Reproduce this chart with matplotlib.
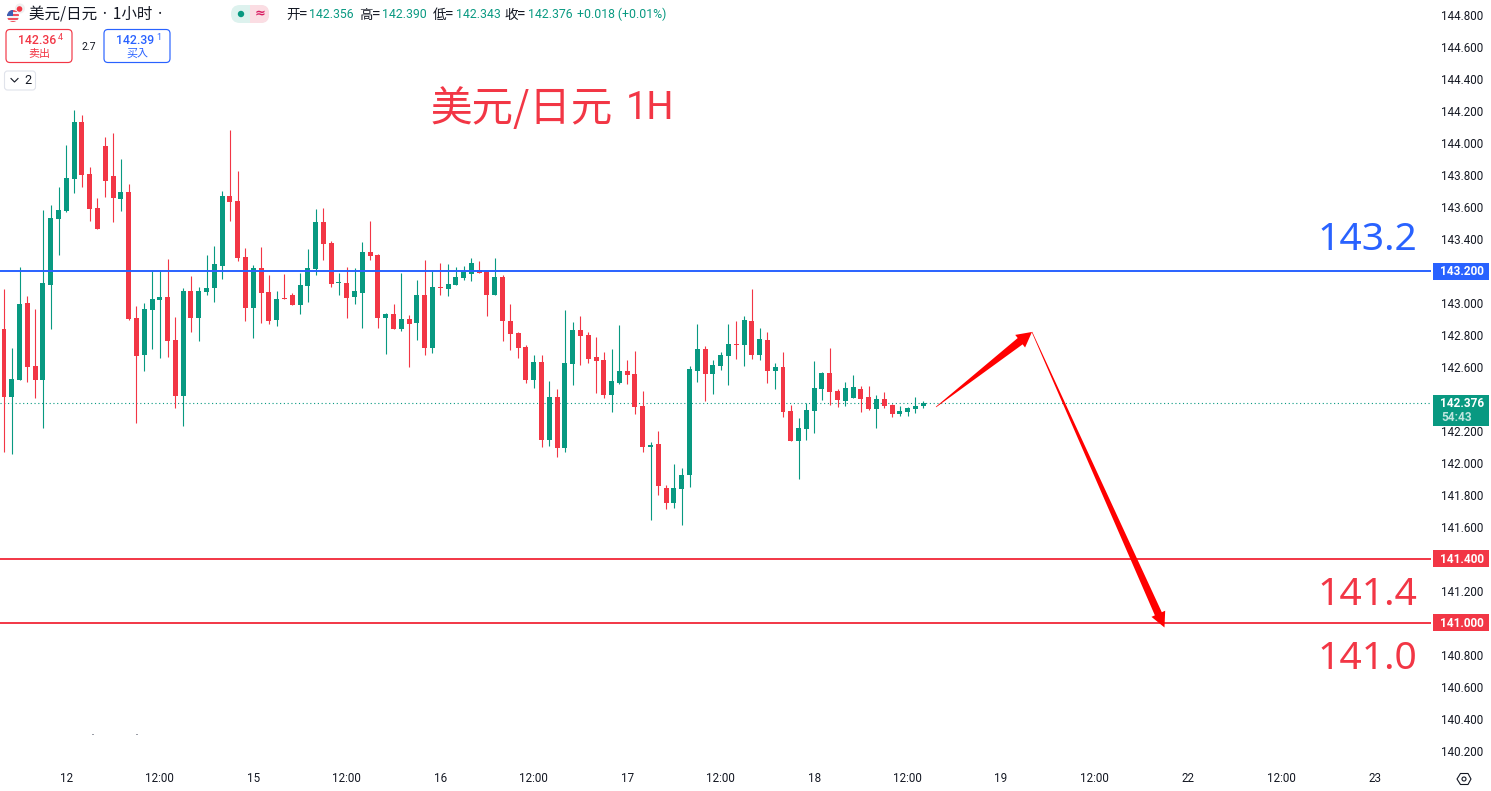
import matplotlib
matplotlib.use("Agg")
import matplotlib.pyplot as plt
from matplotlib import font_manager as fm
from matplotlib.patches import FancyBboxPatch, Rectangle, Polygon, Circle

W, H = 1491, 791
UP, DOWN, BLUE = "#089981", "#F23645", "#2962FF"
ARROW = "#FF0000"
TXT = "#131722"
installed = sorted({f.name for f in fm.fontManager.ttflist if "CJK" in f.name})
pref = [n for n in ["Noto Sans CJK SC","Noto Sans CJK JP","Noto Sans CJK TC","Noto Sans CJK KR"] if n in installed]
CJK = pref + [n for n in installed if n not in pref] + ["DejaVu Sans"]
NUM = "Roboto"

opens = [142.838,142.415,142.521,143.0,142.606,142.521,143.115,143.527,143.577,143.777,144.131,143.806,143.594,143.981,143.794,143.652,
143.694,142.906,142.677,142.959,143.021,143.038,142.769,142.421,143.075,142.909,143.071,143.096,143.234,143.669,143.638,143.288,
142.969,143.219,143.069,142.894,143.029,143.05,142.988,143.106,143.213,143.506,143.375,143.125,143.125,143.038,143.063,143.319,
143.3,142.906,142.931,142.838,142.9,142.875,143.05,142.719,143.1,143.088,143.113,143.156,143.181,143.206,143.198,143.05,
143.163,142.888,142.813,142.725,142.519,142.631,142.144,142.413,142.094,142.619,142.831,142.8,142.663,142.644,142.425,142.5,
142.575,142.556,142.356,142.1,142.119,141.844,141.75,141.838,141.925,142.575,142.713,142.556,142.606,142.669,142.744,142.738,
142.888,142.675,142.769,142.575,142.6,142.325,142.138,142.213,142.325,142.463,142.563,142.45,142.388,142.406,142.463,142.413,
142.338,142.4,142.363,142.306,142.319,142.338,142.356]
highs = [143.088,142.719,143.225,143.044,142.963,143.581,143.613,143.725,143.988,144.206,144.175,143.85,143.656,144.038,144.063,143.9,
143.744,142.981,143.0,143.2,143.206,143.275,142.913,143.094,143.169,143.1,143.3,143.356,143.7,144.081,143.825,143.344,
143.238,143.35,143.175,143.075,143.181,143.063,143.188,143.338,143.588,143.594,143.388,143.188,143.225,143.219,143.381,143.513,
143.306,142.938,142.994,143.188,142.925,143.144,143.269,143.2,143.25,143.244,143.225,143.231,143.281,143.263,143.2,143.281,
143.175,142.994,142.819,142.738,142.675,142.675,142.513,142.463,142.956,142.881,142.919,142.819,142.788,142.694,142.713,142.863,
142.644,142.7,142.45,142.131,142.2,141.863,141.994,141.969,142.606,142.869,142.731,142.644,142.694,142.869,142.888,142.919,
143.088,142.844,142.819,142.625,142.694,142.363,142.281,142.375,142.638,142.569,142.719,142.463,142.506,142.55,142.481,142.481,
142.425,142.444,142.369,142.356,142.35,142.413,142.39]
lows = [142.071,142.059,142.521,142.506,142.409,142.221,142.838,143.302,143.571,143.69,143.727,143.515,143.465,143.665,143.509,143.577,
142.894,142.252,142.577,142.715,142.659,142.665,142.346,142.234,142.821,142.765,143.052,143.009,143.152,143.515,143.265,142.89,
142.782,142.875,142.869,142.856,143.025,142.988,142.931,143.006,143.175,143.269,143.1,143.05,142.906,142.994,142.844,143.269,
142.844,142.681,142.838,142.825,142.6,142.769,142.675,142.688,143.05,143.044,143.113,143.144,143.138,143.188,142.919,143.05,
142.763,142.706,142.656,142.5,142.469,142.1,142.106,142.038,142.069,142.488,142.613,142.625,142.438,142.406,142.319,142.494,
142.494,142.306,142.069,141.644,141.8,141.713,141.719,141.613,141.85,142.506,142.388,142.431,142.581,142.488,142.65,142.606,
142.65,142.644,142.5,142.463,142.288,142.138,141.9,142.144,142.188,142.394,142.363,142.35,142.356,142.406,142.319,142.331,
142.219,142.344,142.288,142.294,142.294,142.313,142.343]
closes = [142.415,142.525,142.994,142.602,142.521,143.125,143.531,143.581,143.781,144.131,143.802,143.59,143.465,143.765,143.659,143.694,
142.902,142.671,142.963,143.025,143.038,142.765,142.421,143.075,142.909,143.075,143.094,143.244,143.669,143.634,143.284,142.971,
143.219,143.063,142.888,143.025,143.025,142.988,143.113,143.219,143.506,143.369,143.119,143.129,143.031,143.075,143.319,143.294,
142.906,142.931,142.838,142.9,142.869,143.05,142.719,143.1,143.094,143.119,143.163,143.194,143.25,143.188,143.05,143.163,
142.888,142.806,142.719,142.519,142.631,142.144,142.413,142.094,142.625,142.831,142.794,142.65,142.638,142.425,142.513,142.575,
142.55,142.35,142.1,142.113,141.856,141.75,141.844,141.925,142.588,142.713,142.556,142.613,142.675,142.744,142.74,142.894,
142.675,142.775,142.575,142.6,142.319,142.138,142.219,142.331,142.469,142.563,142.444,142.394,142.469,142.475,142.4,142.338,
142.4,142.356,142.306,142.325,142.344,142.356,142.376]

price_ticks = [140.2,140.4,140.6,140.8,141.0,141.2,141.4,141.6,141.8,142.0,142.2,142.4,142.6,142.8,143.0,143.2,143.4,143.6,143.8,144.0,144.2,144.4,144.6,144.8]
hidden_ticks = [141.0,141.4,143.2]
time_pos = [8,20,32,44,56,68,80,92,104,116,128,140,152,164,176]
time_labels = ["12","12:00","15","12:00","16","12:00","17","12:00","18","12:00","19","12:00","22","12:00","23"]
levels = [143.2,141.4,141.0]
level_colors = [BLUE,DOWN,DOWN]
last_price = 142.376
arrow_up = [(119.64,142.35),(131.96,142.819)]
arrow_down = [(131.96,142.819),(148.97,140.972)]

PANE_R, PANE_B = 1431, 767
fig = plt.figure(figsize=(W/100,H/100),dpi=100,facecolor="white")
ax = fig.add_axes([0,1-PANE_B/H,PANE_R/W,PANE_B/H])
px_per_bar, x0 = 7.79, 4.0
ax.set_xlim(-x0/px_per_bar,(PANE_R-x0)/px_per_bar)
ax.set_ylim(143.2-(PANE_B-271)/160,143.2+271/160)
for s in ax.spines.values():
    s.set_visible(False)
ax.yaxis.tick_right()
shown = [p for p in price_ticks if p not in hidden_ticks]
ax.set_yticks(shown)
ax.set_yticklabels([f"{p:.3f}" for p in shown],fontsize=8.4,family=NUM,color=TXT)
ax.tick_params(axis="y",length=0,pad=7)
ax.set_xticks(time_pos)
ax.set_xticklabels(time_labels,fontsize=8.4,family=NUM,color=TXT)
ax.tick_params(axis="x",length=0,pad=3.5)

idx = list(range(len(opens)))
cols = [UP if c>=o else DOWN for o,c in zip(opens,closes)]
wicks = ax.vlines(idx,lows,highs,colors=cols,linewidth=0.8,zorder=3)
wicks.set_snap(True)
ax.bar(idx,[max(abs(c-o),0.006) for o,c in zip(opens,closes)],bottom=[min(o,c) for o,c in zip(opens,closes)],
       width=0.64,color=cols,linewidth=0,zorder=3)

ax.plot([ax.get_xlim()[0],(1430-x0)/px_per_bar],[last_price,last_price],color=UP,lw=0.8,ls=(0,(1,2.4)),zorder=2)
for lv,c in zip(levels,level_colors):
    ax.axhline(lv,color=c,lw=1.4,zorder=4)

def tapered(p0,p1,tail=0.3,shaft=4.0,hw=8.0,hl=15.0,color=ARROW):
    (xa,ya),(xb,yb) = ax.transData.transform([p0,p1])
    d = ((xb-xa)**2+(yb-ya)**2)**.5
    ux,uy = (xb-xa)/d,(yb-ya)/d
    nx,ny = -uy,ux
    bx,by = xb-ux*hl,yb-uy*hl
    pts = [(xa+nx*tail,ya+ny*tail),(bx+nx*shaft,by+ny*shaft),(bx+nx*hw,by+ny*hw),(xb,yb),
           (bx-nx*hw,by-ny*hw),(bx-nx*shaft,by-ny*shaft),(xa-nx*tail,ya-ny*tail)]
    ax.add_patch(Polygon(pts,closed=True,transform=None,facecolor=color,edgecolor="none",zorder=5))
tapered(*arrow_up)
tapered(*arrow_down,shaft=3.8,hw=7.5)

# overlay in pixel coordinates
ov = fig.add_axes([0,0,1,1],facecolor="none")
ov.set_xlim(0,W); ov.set_ylim(H,0); ov.axis("off")

def T(x,y,s,size=8.4,color=TXT,ha="left",va="center",family=NUM,**k):
    return ov.text(x,y,s,fontsize=size,color=color,ha=ha,va=va,family=family,**k)
def px(n):
    return n*0.72

T(431,121,"美元/日元",size=px(41.5),color=DOWN,family=CJK,va="baseline")
T(626,119,"1H",size=px(38),color=DOWN,family="Roboto",va="baseline")
T(1317,250,"143.2",size=px(39),color=BLUE,family="Noto Sans",va="baseline")
T(1317,605,"141.4",size=px(39),color=DOWN,family="Noto Sans",va="baseline")
T(1317,669,"141.0",size=px(39),color=DOWN,family="Noto Sans",va="baseline")

for lv,c in zip(levels,level_colors):
    y = 271+(143.2-lv)*160
    ov.add_patch(Rectangle((1433,y-8.5),56,17,facecolor=c,edgecolor="none"))
    T(1462,y+0.3,f"{lv:.3f}",color="white",ha="center",fontweight="bold",size=8.5)
ov.add_patch(Rectangle((1433,395),56,31,facecolor=UP,edgecolor="none"))
T(1462,403.3,f"{last_price:.3f}",color="white",ha="center",fontweight="bold",size=8.5)
T(1441,417.5,"54:43",color="#BFE6DF",size=8.5,fontweight="bold")

# settings icon
hexx = [1457,1460.5,1468,1471,1468,1460.5]
hexy = [779,773.5,773.5,779,784.5,784.5]
ov.add_patch(Polygon(list(zip(hexx,hexy)),closed=True,facecolor="none",edgecolor=TXT,lw=0.8))
ov.add_patch(Circle((1464,779),2,facecolor="none",edgecolor=TXT,lw=0.8))

# small specks near the lower left of the pane
for sx in (91.5,135.5):
    ov.add_patch(Rectangle((sx,733.8),2,1,facecolor="#9A9DA6",edgecolor="none"))

# header: flag
jp = Circle((20,8.5),5,facecolor="#F0F0F0",edgecolor="none")
ov.add_patch(jp)
ov.add_patch(Circle((19.5,9),2.8,facecolor="#F23645",edgecolor="none"))
us = Circle((13,16),6,facecolor="#F4F4F4",edgecolor="white",lw=0.6)
ov.add_patch(us)
for r in [(7,10,12,2),(7,14.2,12,1.8),(7,18,12,1.8),(7,20.5,12,2)]:
    p = Rectangle((r[0],r[1]),r[2],r[3],facecolor="#F0525F",edgecolor="none"); ov.add_patch(p); p.set_clip_path(us)
p = Rectangle((7,10),6,6,facecolor="#3D5FB4",edgecolor="none"); ov.add_patch(p); p.set_clip_path(us)

T(29,14.5,"美元/日元 · 1小时 ·",size=px(15.5),family=CJK)
ov.add_patch(FancyBboxPatch((231,5),38,18,boxstyle="round,pad=0,rounding_size=9",facecolor="#DDF2EE",edgecolor="none"))
ov.add_patch(FancyBboxPatch((250,5),19,18,boxstyle="round,pad=0,rounding_size=8",facecolor="#FBDDE3",edgecolor="none"))
ov.add_patch(Rectangle((250,5),6,18,facecolor="#FBDDE3",edgecolor="none"))
ov.add_patch(Circle((241,14),3.2,facecolor=UP,edgecolor="none"))
T(260,14,"≈",size=px(13),color="#D81B60",ha="center",family="DejaVu Sans",fontweight="bold")
keys = ["开","高","低","收"]
vals = ["142.356","142.390","142.343","142.376"]
for x,k,v in zip([286,359,433,505],keys,vals):
    T(x,14.5,k+"=",size=px(13.5),family=CJK)
    T(x+23,14.5,v,size=px(12.3),color=UP)
T(577,14.5,"+0.018 (+0.01%)",size=px(12.3),color=UP)

def btn(x,w,c,num,nx,sup,sx,lab,lx):
    ov.add_patch(FancyBboxPatch((x,29.5),w,33,boxstyle="round,pad=0,rounding_size=4",facecolor="white",edgecolor=c,lw=0.85))
    T(nx,40,num,size=px(12.3),color=c,fontweight="medium")
    T(sx,38,sup,size=px(9),color=c)
    T(lx,54,lab,size=px(11),color=c,ha="center",family=CJK)
btn(6,66,DOWN,"142.36",18,"4",58,"卖出",39)
btn(104,66,BLUE,"142.39",116,"1",156,"买入",137)
T(88.5,46.5,"2.7",size=px(10.5),ha="center")
ov.add_patch(FancyBboxPatch((4.5,71),31,19,boxstyle="round,pad=0,rounding_size=3",facecolor="white",edgecolor="#E0E3EB",lw=0.8))
ov.plot([11,14.5,18],[78.5,82,78.5],color=TXT,lw=0.8)
T(24,80.5,"2",size=px(12.5))

fig.savefig("out.png",dpi=100,facecolor="white")
